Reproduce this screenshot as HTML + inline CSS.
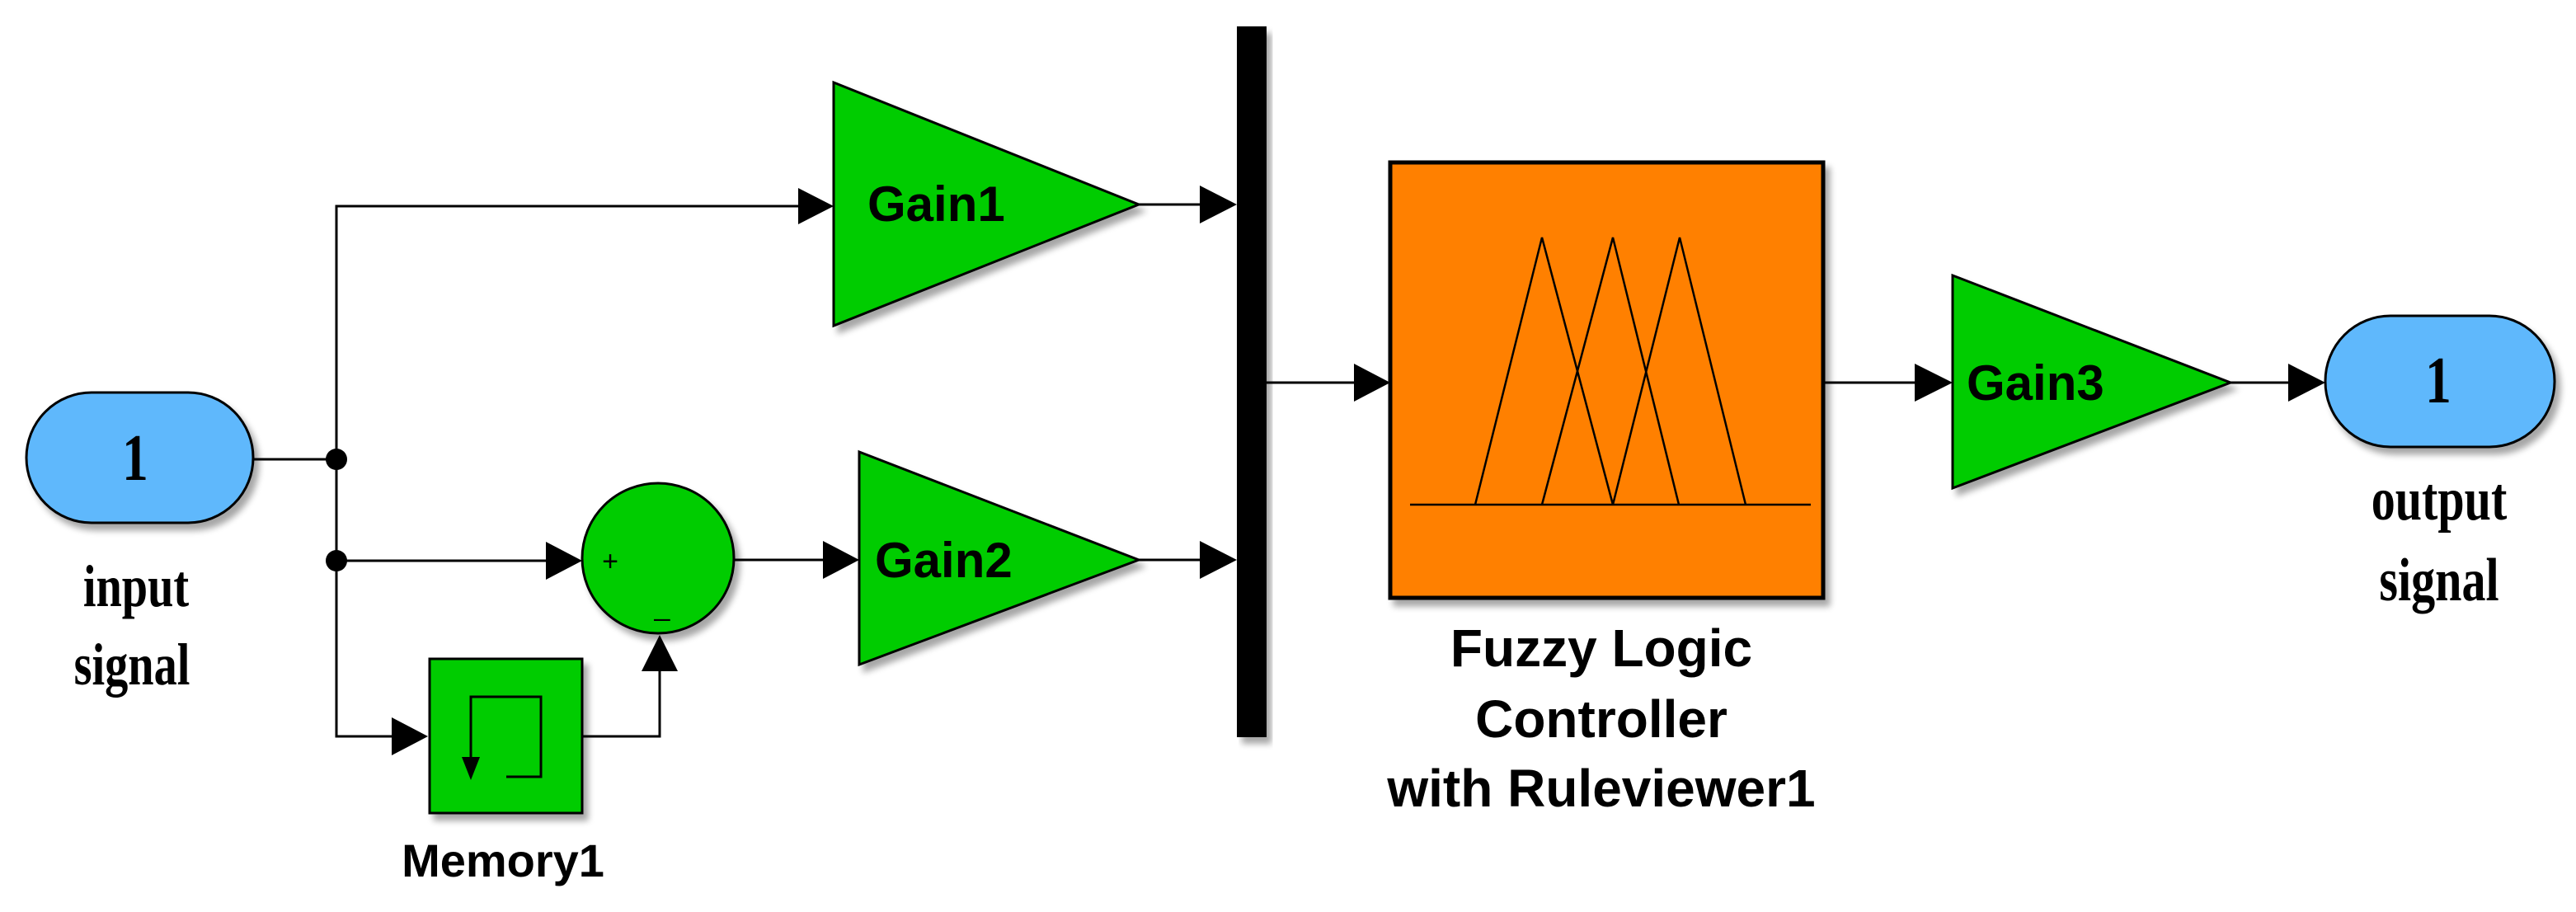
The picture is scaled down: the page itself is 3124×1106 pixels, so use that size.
<!DOCTYPE html>
<html><head><meta charset="utf-8"><style>
html,body{margin:0;padding:0;background:#fff}
svg{display:block}
.s{font-family:"Liberation Sans",Arial,sans-serif;font-weight:bold}
.t{font-family:"Liberation Serif","Times New Roman",serif;font-weight:bold}
</style></head><body>
<svg width="3124" height="1106" viewBox="0 0 3124 1106" xmlns="http://www.w3.org/2000/svg">
<defs>
<filter id="sh" x="-10%" y="-10%" width="130%" height="130%">
<feGaussianBlur in="SourceAlpha" stdDeviation="4"/>
<feOffset dx="6" dy="8" result="o"/>
<feComponentTransfer><feFuncA type="linear" slope="0.35"/></feComponentTransfer>
<feMerge><feMergeNode/><feMergeNode in="SourceGraphic"/></feMerge>
</filter>
</defs>
<g stroke="#000" stroke-width="3" fill="none">
<line x1="307" y1="557" x2="408" y2="557"/>
<polyline points="975,250 408,250 408,893 480,893"/>
<line x1="408" y1="680" x2="668" y2="680"/>
<line x1="890" y1="679" x2="1002" y2="679"/>
<polyline points="706,893 800,893 800,812"/>
<line x1="1381" y1="248" x2="1460" y2="248"/>
<line x1="1381" y1="679" x2="1460" y2="679"/>
<line x1="1536" y1="464" x2="1648" y2="464"/>
<line x1="2211" y1="464" x2="2328" y2="464"/>
<line x1="2705" y1="464" x2="2782" y2="464"/>
</g>
<g fill="#000">
<circle cx="408" cy="557" r="13"/>
<circle cx="408" cy="680" r="13"/>
<polygon points="968,228 1011,250 968,272"/>
<polygon points="662,657 706,680 662,703"/>
<polygon points="475,870 519,893 475,916"/>
<polygon points="778,814 800,770 822,814"/>
<polygon points="998,656 1042,679 998,702"/>
<polygon points="1455,225 1500,248 1455,271"/>
<polygon points="1455,656 1500,679 1455,702"/>
<polygon points="1642,441 1686,464 1642,487"/>
<polygon points="2322,441 2368,464 2322,487"/>
<polygon points="2775,441 2820,464 2775,487"/>
</g>
<rect x="32" y="476" width="275" height="158" rx="79" fill="#5fb8fc" stroke="#000" stroke-width="3" filter="url(#sh)"/>
<text class="t" font-size="72" text-anchor="middle" transform="translate(164,582) scale(0.88,1.12)">1</text>
<text class="t" font-size="64" text-anchor="middle" transform="translate(165,735) scale(0.88,1.12)">input</text>
<text class="t" font-size="64" text-anchor="middle" transform="translate(160,830) scale(0.88,1.12)">signal</text>
<ellipse cx="798" cy="677" rx="92" ry="91" fill="#00cc00" stroke="#000" stroke-width="3" filter="url(#sh)"/>
<text x="740" y="692" font-family="Liberation Sans,sans-serif" font-size="34" text-anchor="middle">+</text>
<text x="803" y="746" font-family="Liberation Sans,sans-serif" font-size="34" text-anchor="middle">_</text>
<rect x="521" y="799" width="185" height="187" fill="#00cc00" stroke="#000" stroke-width="3" filter="url(#sh)"/>
<polyline points="571,935 571,845 656,845 656,942 614,942" fill="none" stroke="#000" stroke-width="3"/>
<polygon points="560,918 582,918 571,946" fill="#000"/>
<text x="610" y="1063" class="s" font-size="56" text-anchor="middle">Memory1</text>
<polygon points="1011,100 1381,248 1011,395" fill="#00cc00" stroke="#000" stroke-width="3" filter="url(#sh)"/>
<text x="1052" y="268" class="s" font-size="60">Gain1</text>
<polygon points="1042,548 1381,679 1042,806" fill="#00cc00" stroke="#000" stroke-width="3" filter="url(#sh)"/>
<text x="1061" y="700" class="s" font-size="60">Gain2</text>
<rect x="1500" y="32" width="36" height="862" fill="#000" filter="url(#sh)"/>
<rect x="1686" y="197" width="525" height="528" fill="#ff8000" stroke="#000" stroke-width="5" filter="url(#sh)"/>
<g stroke="#000" stroke-width="2.5" fill="none">
<line x1="1710" y1="612" x2="2196" y2="612"/>
<polyline points="1789,612 1870,288 1956,612"/>
<polyline points="1870,612 1956,288 2036,612"/>
<polyline points="1956,612 2037,288 2117,612"/>
</g>
<text x="1942" y="808" class="s" font-size="64" text-anchor="middle">Fuzzy Logic</text>
<text x="1942" y="894" class="s" font-size="64" text-anchor="middle">Controller</text>
<text x="1942" y="978" class="s" font-size="64" text-anchor="middle">with Ruleviewer1</text>
<polygon points="2368,334 2705,464 2368,592" fill="#00cc00" stroke="#000" stroke-width="3" filter="url(#sh)"/>
<text x="2385" y="485" class="s" font-size="60">Gain3</text>
<rect x="2820" y="383" width="278" height="159" rx="79" fill="#5fb8fc" stroke="#000" stroke-width="3" filter="url(#sh)"/>
<text class="t" font-size="72" text-anchor="middle" transform="translate(2957,488) scale(0.88,1.12)">1</text>
<text class="t" font-size="66" text-anchor="middle" transform="translate(2958,630) scale(0.88,1.12)">output</text>
<text class="t" font-size="66" text-anchor="middle" transform="translate(2958,728) scale(0.88,1.12)">signal</text>
</svg>
</body></html>
